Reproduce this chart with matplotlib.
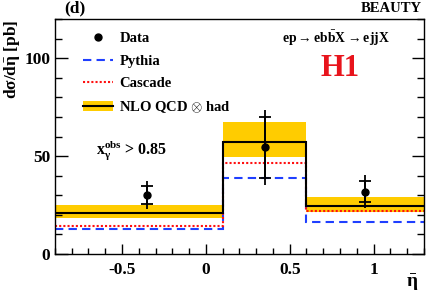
import matplotlib
matplotlib.use('Agg')
import matplotlib.pyplot as plt
from matplotlib.patches import Patch
from matplotlib.lines import Line2D
from matplotlib.ticker import MultipleLocator

plt.rcParams['font.family'] = 'Liberation Serif'
plt.rcParams['font.weight'] = 'bold'
plt.rcParams['axes.unicode_minus'] = False
plt.rcParams['mathtext.fontset'] = 'custom'
plt.rcParams['mathtext.rm'] = 'Liberation Serif:bold'
plt.rcParams['mathtext.it'] = 'Liberation Serif:bold'
plt.rcParams['mathtext.bf'] = 'Liberation Serif:bold'

# bin edges in eta-bar
edges = [-0.9, 0.1, 0.6, 1.3]

# data points
data_x = [-0.35, 0.35, 0.95]
data_y = [30.0, 54.5, 31.8]
data_stat = [4.7, 15.5, 5.5]
data_tot = [7.2, 19.2, 8.5]

# predictions
nlo = [21.1, 57.3, 24.3]
nlo_lo = [18.5, 49.6, 21.6]
nlo_hi = [24.8, 67.5, 29.1]
cascade = [14.1, 46.3, 21.8]
pythia = [12.6, 38.9, 16.5]

yellow = '#ffcc00'

fig = plt.figure(figsize=(4.26, 3.03), dpi=100)
ax = fig.add_axes([0.129, 0.162, 0.866, 0.775])

ax.stairs(nlo_hi, edges, baseline=nlo_lo, fill=True, color=yellow, lw=0)
ax.stairs(pythia, edges, baseline=None, color='#1f3fff', ls=(0, (4, 2.5)), lw=1.5)
ax.stairs(cascade, edges, baseline=None, color='#ff1010', ls=(0, (1, 1)), lw=1.5)
ax.stairs(nlo, edges, baseline=None, color='black', lw=1.5)

ax.errorbar(data_x, data_y, yerr=data_tot, fmt='none', ecolor='black', elinewidth=1.3, capsize=0)
ax.errorbar(data_x, data_y, yerr=data_stat, fmt='o', color='black', ms=5,
            elinewidth=1.3, capsize=4, capthick=1.3)

ax.set_xlim(-0.9, 1.3)
ax.set_ylim(0, 120)
ax.set_yticks([0, 50, 100])
ax.yaxis.set_minor_locator(MultipleLocator(10))
ax.set_xticks([-0.5, 0, 0.5, 1])
ax.set_xticklabels(['-0.5', '0', '0.5', '1'])
ax.xaxis.set_minor_locator(MultipleLocator(0.1))
ax.tick_params(which='both', direction='in', right=True, top=False, labelsize=12.5, width=1)
ax.tick_params(axis='y', which='major', length=9)
ax.tick_params(axis='y', which='minor', length=5)
ax.tick_params(axis='x', which='major', length=7, pad=6)
ax.tick_params(axis='x', which='minor', length=4.5)
for s in ax.spines.values():
    s.set_linewidth(1)

ax.set_ylabel(r'd$\sigma$/d$\bar{\eta}$ [pb]', loc='top', fontsize=12.5, fontweight='bold')
ax.yaxis.set_label_coords(-0.088, 1.0)
ax.set_xlabel(r'$\bar{\eta}$', loc='right', fontsize=14)
ax.xaxis.set_label_coords(0.985, -0.08)

handles = [
    Line2D([], [], ls='none', marker='o', color='black', ms=5),
    Line2D([], [], color='#1f3fff', ls=(0, (4, 2.5)), lw=1.5),
    Line2D([], [], color='#ff1010', ls=(0, (1, 1)), lw=1.5),
    (Patch(facecolor=yellow, edgecolor='none'), Line2D([], [], color='black', lw=1.5)),
]
labels = ['Data', 'Pythia', 'Cascade', r'NLO QCD $\otimes$ had']
ax.legend(handles, labels, loc='upper left', bbox_to_anchor=(0.04, 1.0), frameon=False,
          handlelength=2.1, handletextpad=0.4, labelspacing=0.62,
          prop={'weight': 'bold', 'size': 10.5})

ax.text(0.615, 0.92, r'ep$\rightarrow$eb$\bar{\rm b}$X$\rightarrow$ejjX', transform=ax.transAxes,
        fontsize=9.8, ha='left', va='center')
ax.text(0.772, 0.79, 'H1', transform=ax.transAxes, color='#e8141c', fontsize=22,
        ha='center', va='center', fontweight='bold')
ax.text(0.11, 0.44, r'x$_\gamma^{\rm obs}$ > 0.85', transform=ax.transAxes,
        fontsize=11.5, ha='left', va='center')

fig.text(0.175, 0.972, '(d)', fontsize=12.5, ha='center', va='center', fontweight='bold')
fig.text(0.99, 0.972, 'BEAUTY', fontsize=10.5, ha='right', va='center', fontweight='bold')

fig.savefig('out.png', dpi=100)
